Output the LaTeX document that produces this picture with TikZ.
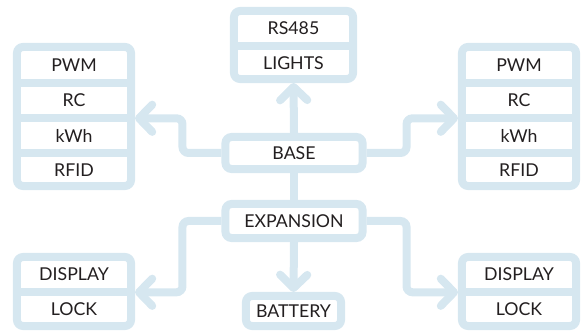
\documentclass[tikz,border=0pt]{standalone}
\usepackage{fontspec}
\setmainfont{Lato}
\usetikzlibrary{arrows.meta}
\definecolor{paleblue}{RGB}{214,231,240}
\definecolor{inkgray}{RGB}{35,31,32}

\begin{document}
\begin{tikzpicture}[x=0.025cm,y=-0.025cm,
  frame/.style={draw=paleblue,line width=0.2cm,rounded corners=0.15cm,fill=white,inner sep=0pt},
  cell/.style={text=inkgray,font=\fontsize{12.6}{14}\selectfont,inner sep=0pt,minimum height=0.875cm},
  sep/.style={draw=paleblue,line width=0.2cm},
  plain/.style={draw=paleblue,line width=0.2cm},
  link/.style={plain,rounded corners=0.15cm,-{Straight Barb[round,length=0.33cm,width=0.68cm]}}]
  \useasboundingbox (0,0) rectangle (584,333);

  % top box
  \node [frame,minimum width=2.975cm,minimum height=1.7cm] (rsbox) at (293.5,45) {};
  \node [cell,minimum width=2.975cm] (rs) at (293.5,28.5) {RS485};
  \node [cell,minimum width=2.975cm] (lights) at (293.5,63) {LIGHTS};
  \draw[sep,line cap=round] ([xshift=0.1cm]rs.south west) -- ([xshift=-0.12cm]rs.south east);

  % left and right boxes
  \node [frame,minimum width=2.85cm,minimum height=3.475cm] (left) at (74,116.5) {};
  \node [cell,minimum width=2.85cm] (pwmL) at (74,65.5) {PWM};
  \node [cell,minimum width=2.85cm] (rcL) at (74,100.5) {RC};
  \node [cell,minimum width=2.85cm] (kwhL) at (74,135.5) {kWh};
  \node [cell,minimum width=2.85cm] (rfidL) at (74,170) {RFID};
  \draw[sep] (pwmL.south west) -- (pwmL.south east);
  \draw[sep] (rcL.south west) -- (rcL.south east);
  \draw[sep] (kwhL.south west) -- (kwhL.south east);

  \node [frame,minimum width=2.85cm,minimum height=3.475cm] (right) at (519,116.5) {};
  \node [cell,minimum width=2.85cm] (pwmR) at (519,65.5) {PWM};
  \node [cell,minimum width=2.85cm] (rcR) at (519,100.5) {RC};
  \node [cell,minimum width=2.85cm] (kwhR) at (519,135.5) {kWh};
  \node [cell,minimum width=2.85cm] (rfidR) at (519,170) {RFID};
  \draw[sep] (pwmR.south west) -- (pwmR.south east);
  \draw[sep] (rcR.south west) -- (rcR.south east);
  \draw[sep] (kwhR.south west) -- (kwhR.south east);

  % middle column
  \node [frame,cell,minimum width=3.425cm,minimum height=0.8cm] (base) at (294,153) {BASE};
  \node [frame,cell,minimum width=3.425cm,minimum height=0.85cm] (expansion) at (294,221) {EXPANSION};
  \node [frame,cell,minimum width=2.375cm,minimum height=0.75cm] (battery) at (293.5,311) {BATTERY};

  % bottom boxes
  \node [frame,minimum width=2.85cm,minimum height=1.725cm] (botL) at (74,291.5) {};
  \node [cell,minimum width=2.85cm] (dispL) at (74,274.5) {DISPLAY};
  \node [cell,minimum width=2.85cm] (lockL) at (74,309.5) {LOCK};
  \draw[sep] (dispL.south west) -- (dispL.south east);

  \node [frame,minimum width=2.85cm,minimum height=1.725cm] (botR) at (519,291.5) {};
  \node [cell,minimum width=2.85cm] (dispR) at (519,274.5) {DISPLAY};
  \node [cell,minimum width=2.85cm] (lockR) at (519,309.5) {LOCK};
  \draw[sep] (dispR.south west) -- (dispR.south east);

  % connectors
  \draw[link] (base.north) -- (rsbox.south);
  \draw[link] (base.west) -- ++(-39,0) |- (rcL.south -| left.east);
  \draw[link] (base.east) -- ++(40,0) |- (rcR.south -| right.west);
  \draw[plain] (base.south) -- (expansion.north);
  \draw[link] (expansion.west) -- ++(-39,0) |- (dispL.south -| botL.east);
  \draw[link] (expansion.east) -- ++(40,0) |- (dispR.south -| botR.west);
  \draw[link] (expansion.south) -- (battery.north);
\end{tikzpicture}
\end{document}
